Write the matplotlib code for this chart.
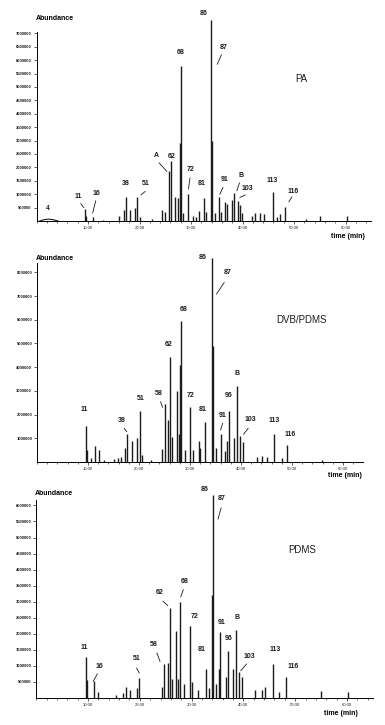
import numpy as np
import matplotlib.pyplot as plt

plt.rcParams['font.family'] = ['Liberation Sans', 'DejaVu Sans']

# ---- PA panel: retention time (min), abundance ----
pa_time = [9.4, 9.7, 10.9, 13.0, 16.0, 17.0, 17.4, 18.2, 19.2, 19.6, 20.1, 22.5,
           24.4, 25.0, 25.7, 26.1, 26.9, 27.4, 27.8, 28.0, 28.4, 29.5, 30.3, 31.0, 31.6,
           32.6, 33.0, 33.9, 34.1, 34.7, 35.5, 35.9, 36.6, 36.9, 38.0, 38.4,
           39.2, 39.5, 39.8, 41.8, 42.4, 43.4, 44.2, 45.9, 46.6, 47.3, 48.3,
           52.3, 55.0, 60.2]
pa_abund = [0.45, 0.2, 0.15, 0.05, 0.19, 0.4, 0.9, 0.41, 0.47, 0.9, 0.15, 0.08,
            0.41, 0.35, 1.85, 2.25, 0.88, 0.85, 2.9, 5.8, 0.3, 1.0, 0.2, 0.15, 0.37,
            0.87, 0.35, 7.5, 3.0, 0.3, 0.9, 0.35, 0.72, 0.65, 0.8, 1.03,
            0.75, 0.6, 0.3, 0.2, 0.28, 0.29, 0.25, 1.1, 0.15, 0.25, 0.53,
            0.08, 0.2, 0.2]
pa_hump_t = [0.6, 1.5, 2.3, 3.2, 4.2]
pa_hump_y = [0.0, 0.05, 0.07, 0.05, 0.0]

# ---- DVB/PDMS panel ----
dvb_time = [9.6, 9.9, 10.5, 11.4, 12.1, 13.2, 15.0, 15.8, 16.5, 17.3, 17.6, 18.6,
            19.7, 20.2, 20.6, 22.3, 24.6, 25.0, 25.7, 26.1, 26.4, 27.4, 27.9, 28.0,
            28.3, 29.1, 30.0, 30.5, 31.7, 32.0, 33.0, 34.4, 34.5, 35.0, 36.0,
            36.9, 37.3, 37.7, 38.7, 39.2, 39.8, 40.3, 43.1, 44.1, 45.0, 46.5,
            48.0, 49.1, 55.8]
dvb_abund = [1.53, 0.5, 0.15, 0.67, 0.5, 0.1, 0.12, 0.15, 0.2, 0.6, 1.18, 0.9,
             1.0, 2.17, 0.3, 0.1, 0.53, 2.45, 1.77, 4.42, 1.07, 3.0, 1.2, 4.1,
             5.96, 0.5, 2.33, 0.5, 0.9, 0.6, 1.7, 8.6, 4.9, 0.6, 1.17,
             0.45, 0.9, 2.17, 1.0, 3.22, 1.1, 0.85, 0.2, 0.25, 0.2, 1.18,
             0.15, 0.72, 0.1]

# ---- PDMS panel ----
pdms_time = [9.6, 9.9, 11.1, 11.9, 15.5, 16.8, 17.3, 18.2, 19.5, 19.8, 24.2,
             24.6, 25.5, 25.9, 26.2, 27.0, 27.4, 27.8, 28.5, 29.6, 30.1, 31.2,
             32.7, 33.4, 34.0, 34.1, 34.7, 35.3, 35.5, 36.6, 37.0, 38.0, 38.5,
             39.2, 39.7, 42.2, 43.5, 44.2, 45.8, 46.9, 48.2, 54.9, 60.1]
pdms_abund = [1.28, 0.55, 0.54, 0.2, 0.1, 0.15, 0.35, 0.25, 0.3, 0.62, 0.35,
              1.07, 1.1, 2.8, 0.6, 2.1, 0.6, 3.0, 0.45, 2.25, 0.5, 0.25,
              0.91, 0.3, 3.2, 6.33, 0.45, 0.9, 2.05, 0.65, 1.45, 0.9, 2.13,
              0.8, 0.65, 0.25, 0.25, 0.35, 1.06, 0.2, 0.65, 0.22, 0.2]

# peak labels: (text, x, y) with optional leader line (x0, y0, x1, y1), abundance in 1e6
pa_labels = [("4", 2.2, 0.35, None), ("11", 8.1, 0.8, (8.6, 0.65, 9.2, 0.5)),
             ("16", 11.7, 0.9, (11.5, 0.75, 10.9, 0.3)), ("38", 17.4, 1.25, None),
             ("51", 21.3, 1.27, (21.1, 1.1, 20.3, 0.98)), ("A", 23.3, 2.3, (23.8, 2.17, 25.3, 1.85)),
             ("62", 26.3, 2.27, None), ("68", 27.9, 6.15, None),
             ("72", 30.0, 1.78, (29.8, 1.6, 29.5, 1.2)), ("81", 32.1, 1.25, None),
             ("86", 32.5, 7.6, None), ("87", 36.3, 6.35, (35.9, 6.2, 35.1, 5.85)),
             ("91", 36.5, 1.4, (36.2, 1.25, 35.6, 1.0)), ("B", 39.7, 1.57, (39.4, 1.42, 38.9, 1.13)),
             ("103", 41.0, 1.1, (40.5, 0.97, 39.5, 0.88)), ("113", 45.7, 1.37, None),
             ("116", 49.9, 0.97, (49.6, 0.9, 49.0, 0.72))]
dvb_labels = [("11", 9.2, 2.05, None), ("38", 16.7, 1.6, (17.1, 1.42, 17.6, 1.28)),
              ("51", 20.3, 2.52, None), ("58", 23.8, 2.76, (24.25, 2.54, 24.6, 2.31)),
              ("62", 25.9, 4.8, None), ("68", 28.7, 6.3, None), ("72", 30.1, 2.66, None),
              ("81", 32.5, 2.08, None), ("86", 32.5, 8.5, None),
              ("87", 37.4, 7.85, (36.7, 7.57, 35.2, 7.09)), ("91", 36.3, 1.81, (36.4, 1.63, 36.0, 1.35)),
              ("96", 37.5, 2.66, None), ("B", 39.3, 3.6, None),
              ("103", 41.8, 1.63, (41.4, 1.42, 40.5, 1.17)), ("113", 46.5, 1.6, None),
              ("116", 49.6, 1.03, None)]
pdms_labels = [("11", 9.2, 1.45, None), ("16", 12.3, 0.88, (11.8, 0.75, 11.0, 0.52)),
               ("51", 19.4, 1.11, (19.4, 0.93, 19.9, 0.78)), ("58", 22.7, 1.56, (23.3, 1.4, 23.9, 1.14)),
               ("62", 23.9, 3.17, (24.5, 3.01, 25.4, 2.88)), ("68", 28.6, 3.53, (28.4, 3.37, 27.9, 3.15)),
               ("72", 30.5, 2.44, None), ("81", 31.9, 1.4, None), ("86", 32.6, 6.39, None),
               ("87", 35.8, 6.1, (35.7, 5.92, 35.1, 5.58)), ("91", 35.8, 2.23, None),
               ("96", 37.1, 1.74, None), ("B", 38.8, 2.41, None),
               ("103", 41.1, 1.19, (40.6, 1.06, 39.5, 0.85)), ("113", 46.1, 1.4, None),
               ("116", 49.6, 0.88, None)]

ink = '#1c1c1c'
fig = plt.figure(figsize=(3.85, 7.25), dpi=100)


def draw_panel(rect, times, abund, labels, name, name_xy, xmax, ytop, spine_top, ystep,
               abund_y, time_right, time_drop):
    ax = fig.add_axes(rect)
    t = np.array(times)
    a = np.array(abund) * 1e6
    ax.vlines(t, 0, a, color=ink, lw=1.0)
    ax.set_xlim(0, xmax)
    ax.set_ylim(0, ytop * 1e6)
    for s in ['top', 'right']:
        ax.spines[s].set_visible(False)
    ax.spines['left'].set_bounds(0, spine_top * 1e6)
    ax.spines['left'].set_linewidth(0.7)
    ax.spines['bottom'].set_linewidth(0.7)
    yt = np.arange(ystep, spine_top * 1e6 + 1, ystep)
    ax.set_yticks(yt)
    ax.set_yticklabels([f"{int(v)}" for v in yt], fontsize=3, fontweight='bold')
    ax.set_xticks(np.arange(10, 61, 10))
    ax.set_xticklabels([f"{v:.2f}" for v in np.arange(10, 61, 10)], fontsize=3)
    ax.set_xticks(np.arange(0, xmax, 2), minor=True)
    ax.tick_params(axis='both', which='major', length=2, width=0.5, pad=1.5, colors=ink)
    ax.tick_params(axis='x', which='minor', length=1.2, width=0.4)
    for txt, x, y, line in labels:
        ax.text(x, y * 1e6, txt, fontsize=5, fontweight='bold', ha='center', va='bottom', color=ink)
        if line is not None:
            ax.plot([line[0], line[2]], [line[1] * 1e6, line[3] * 1e6], color=ink, lw=0.6)
    ax.text(name_xy[0], name_xy[1] * 1e6, name, fontsize=7, ha='center', va='center', color=ink)
    ax.text(-0.2, abund_y * 1e6, "Abundance", fontsize=5, fontweight='bold', ha='left',
            va='center', clip_on=False)
    ax.annotate("time (min)", xy=(time_right, 0), xycoords=('data', 'axes fraction'),
                xytext=(0, -time_drop), textcoords='offset points', fontsize=5,
                fontweight='bold', ha='right', va='center')
    return ax


ax1 = draw_panel([36.5 / 385, 504 / 725, 334.8 / 385, 203.7 / 725], pa_time, pa_abund, pa_labels,
                 "PA", (51.5, 5.3), 65, 7.6, 7.05, 500000, 7.54, 63.8, 11.5)
ax1.plot(pa_hump_t, np.array(pa_hump_y) * 1e6, color=ink, lw=0.8)

draw_panel([37 / 385, 263 / 725, 326.4 / 385, 206.2 / 725], dvb_time, dvb_abund, dvb_labels,
           "DVB/PDMS", (51.9, 6.0), 64, 8.7, 8.4, 1000000, 8.57, 63.7, 10)

draw_panel([36.2 / 385, 27 / 725, 336.7 / 385, 205.4 / 725], pdms_time, pdms_abund, pdms_labels,
           "PDMS", (51.3, 4.6), 65, 6.4, 6.17, 500000, 6.36, 62.1, 11)

fig.savefig("out.png", dpi=100)
